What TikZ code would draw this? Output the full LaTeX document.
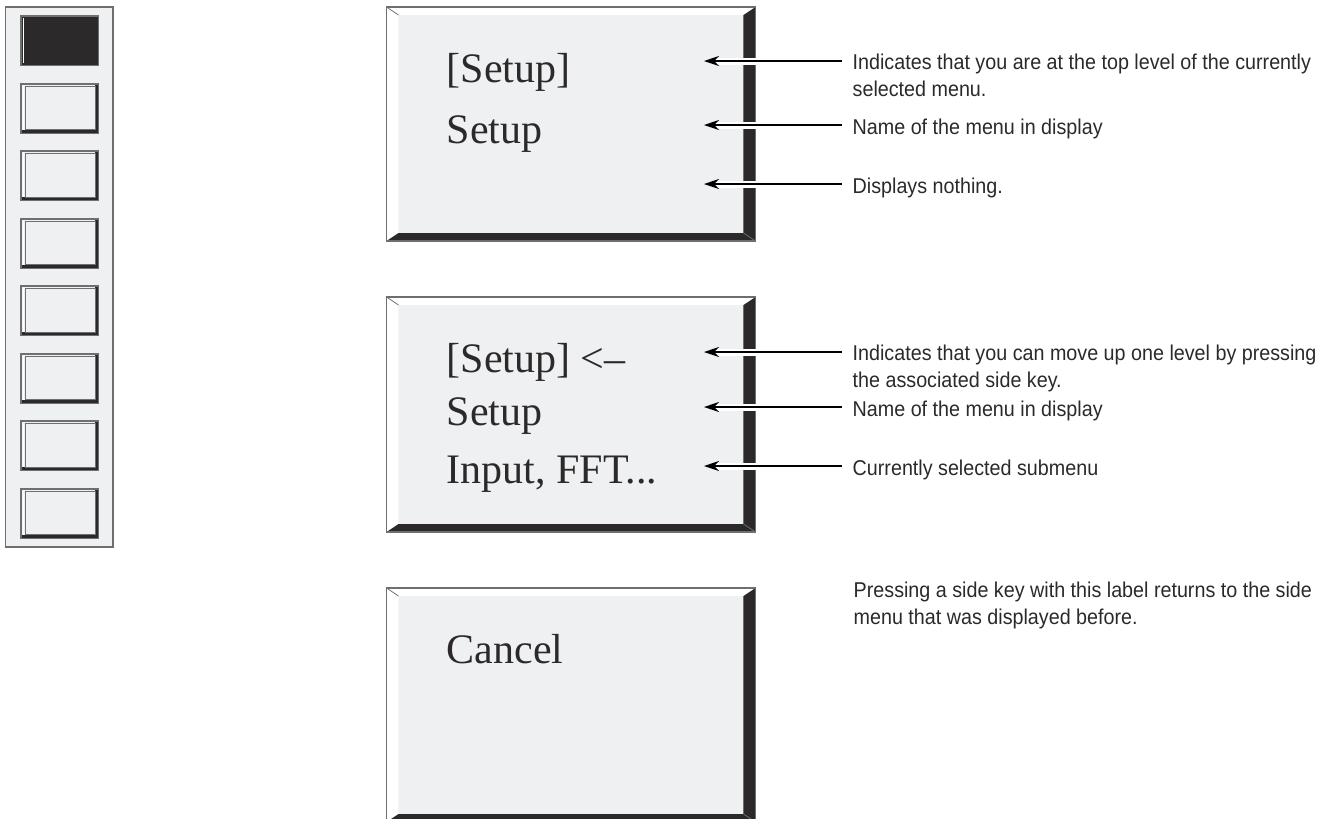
\documentclass[tikz,border=0pt]{standalone}
\usepackage{fontspec}
\setmainfont{Liberation Serif}
\newfontfamily\notefont[FakeStretch=0.92]{Liberation Sans}
\usetikzlibrary{arrows.meta}

\definecolor{facegray}{HTML}{EFF0F2}
\definecolor{bevelblack}{HTML}{2B292A}
\definecolor{rimgray}{HTML}{6F6F6F}

\tikzset{
	menutext/.style={anchor=base west, inner sep=0pt, text=bevelblack, font=\fontsize{11.95}{14}\selectfont},
	notetext/.style={anchor=base west, inner sep=0pt, align=left, text=bevelblack, font=\notefont\fontsize{6.1}{7.55}\selectfont},
	callout/.style={-{Stealth[length=1.5mm,width=1mm]}, line width=0.2mm, shorten <=1mm},
	halo/.style={white, line width=0.7mm, shorten <=1mm, shorten >=1.2mm},
	keyrim/.style={draw=rimgray, fill=facegray, line width=0.2mm},
	keyedge/.style={draw=bevelblack, line width=0.3mm},
}

\begin{document}
\begin{tikzpicture}[x=0.1mm, y=-0.1mm]
	\useasboundingbox (0,0) rectangle (1328,818);

	% side key column
	\draw [draw=rimgray, fill=facegray, line width=0.15mm] (5.5,7) rectangle (113,547);
	\foreach \k in {0,...,7} {
		\draw [keyrim] (21,16+67.5*\k) rectangle (98,65+67.5*\k);
		\draw [keyedge] (96.5,17+67.5*\k) -- (96.5,63.5+67.5*\k) -- (22,63.5+67.5*\k);
		\draw [white, line width=0.15mm] (23.5,18+67.5*\k) -- (23.5,62+67.5*\k);
		\draw [rimgray, line width=0.05mm] (25,18.5+67.5*\k) rectangle (95,62+67.5*\k);
	}
	\fill [bevelblack] (22,17) rectangle (97,64.5);
	\draw [white, line width=0.15mm] (23.5,18) -- (23.5,63);

	% menu labels with bevel
	\foreach \T/\B in {7/241, 297/532, 588/822} {
		\fill [facegray] (386.5,\T) rectangle (755.5,\B);
		\fill [white] (386.5,\T) -- (755.5,\T) -- (743.5,\T+8) -- (398.5,\T+8) -- (398.5,\B-8) -- (386.5,\B) -- cycle;
		\fill [bevelblack] (755.5,\T) -- (755.5,\B) -- (386.5,\B) -- (398.5,\B-8) -- (743.5,\B-8) -- (743.5,\T+8) -- cycle;
		\draw [rimgray, line width=0.08mm] (386.5,\T) -- (398.5,\T+8);
		\draw [rimgray, line width=0.08mm] (755.5,\B) -- (743.5,\B-8);
		\draw [rimgray, line width=0.15mm] (386.5,\T) rectangle (755.5,\B);
	}

	\node [menutext] (top1) at (446,82) {[Setup]};
	\node [menutext] (name1) at (446,143) {Setup};
	\node [menutext] (top2) at (446,372) {[Setup] <–};
	\node [menutext] (name2) at (446,425) {Setup};
	\node [menutext] (sub2) at (446,483) {Input, FFT...};
	\node [menutext] (cancel) at (446,663) {Cancel};

	% explanations (base is the last line)
	\node [notetext] (n-top1) at (852,96.5) {Indicates that you are at the top level of the currently\\selected menu.};
	\node [notetext] (n-name1) at (852,134) {Name of the menu in display};
	\node [notetext] (n-empty1) at (852,193) {Displays nothing.};
	\node [notetext] (n-top2) at (852,387.5) {Indicates that you can move up one level by pressing\\the associated side key.};
	\node [notetext] (n-name2) at (852,416) {Name of the menu in display};
	\node [notetext] (n-sub2) at (852,475) {Currently selected submenu};
	\node [notetext] (n-cancel) at (853,624.5) {Pressing a side key with this label returns to the side\\menu that was displayed before.};

	\coordinate (t-top1) at (704,61);
	\coordinate (t-name1) at (704,125);
	\coordinate (t-empty1) at (704,184);
	\coordinate (t-top2) at (704,352);
	\coordinate (t-name2) at (704,407);
	\coordinate (t-sub2) at (704,466);

	\foreach \n in {top1, name1, empty1, top2, name2, sub2} {
		\draw [halo] (n-\n.west |- t-\n) -- (t-\n);
		\draw [callout] (n-\n.west |- t-\n) -- (t-\n);
	}
\end{tikzpicture}
\end{document}
